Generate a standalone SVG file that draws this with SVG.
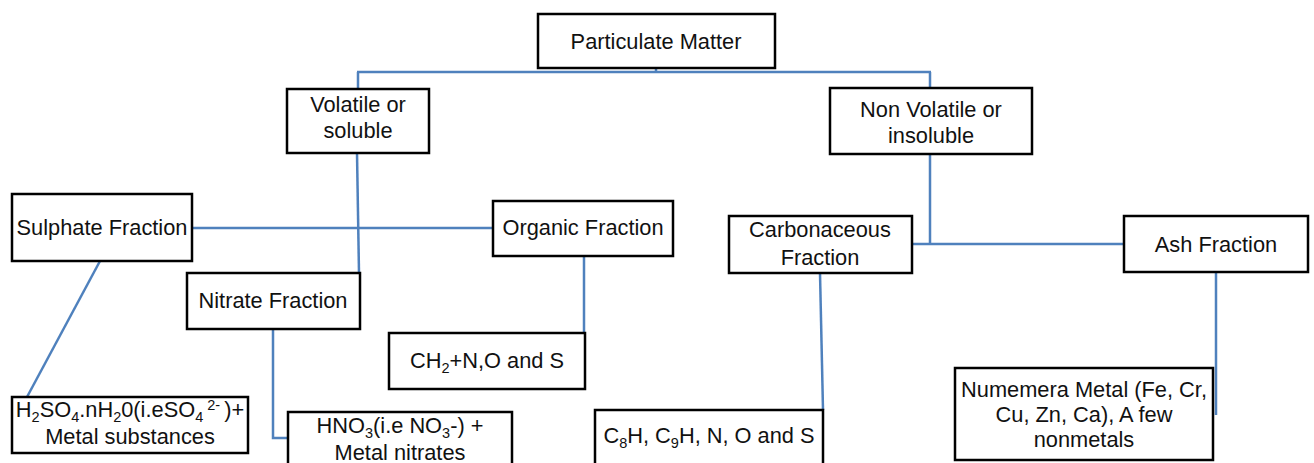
<svg xmlns="http://www.w3.org/2000/svg" width="1314" height="463" viewBox="0 0 1314 463">
<style>
.box{fill:#fff;stroke:#000;stroke-width:2.5}
.c{fill:none;stroke:#4f81bd;stroke-width:2.5}
text{font-family:"Liberation Sans",Arial,sans-serif;font-size:21.8px;fill:#111;text-anchor:middle}
.s{font-size:14.5px}
</style>
<rect width="1314" height="463" fill="#fff"/>
<g id="connectors">
<path class="c" d="M656,68V72M357,72H931M358,72V89M930,72V88"/>
<path class="c" d="M357,153L359,273"/>
<path class="c" d="M192,228H493"/>
<path class="c" d="M100,261L27,397"/>
<path class="c" d="M273,329V438H288"/>
<path class="c" d="M584,256V360"/>
<path class="c" d="M930,154V244M912,244H1124"/>
<path class="c" d="M820,273L823,410"/>
<path class="c" d="M1216,272V415"/>
</g>
<g id="pm"><rect class="box" x="538" y="14" width="237" height="54"/><text x="656" y="49">Particulate Matter</text></g>
<g id="volatile"><rect class="box" x="287" y="89" width="142" height="64"/><text x="358" y="112">Volatile or</text><text x="358" y="138">soluble</text></g>
<g id="nonvolatile"><rect class="box" x="830" y="88" width="202" height="66"/><text x="931" y="117">Non Volatile or</text><text x="931" y="143">insoluble</text></g>
<g id="sulphate"><rect class="box" x="12" y="194" width="180" height="67"/><text x="102" y="235">Sulphate Fraction</text></g>
<g id="organic"><rect class="box" x="493" y="201" width="180" height="55"/><text x="583" y="235">Organic Fraction</text></g>
<g id="nitrate"><rect class="box" x="187" y="273" width="173" height="56"/><text x="273" y="308">Nitrate Fraction</text></g>
<g id="ch2"><rect class="box" x="389" y="333" width="196" height="56"/><text x="487" y="368">CH<tspan class="s" dy="5">2</tspan><tspan dy="-5">+N,O and S</tspan></text></g>
<g id="carbonaceous"><rect class="box" x="729" y="216" width="183" height="57"/><text x="820" y="237">Carbonaceous</text><text x="820" y="265">Fraction</text></g>
<g id="ash"><rect class="box" x="1124" y="216" width="184" height="56"/><text x="1216" y="252">Ash Fraction</text></g>
<g id="h2so4"><rect class="box" x="12" y="397" width="236" height="56"/><text x="130" y="417">H<tspan class="s" dy="5">2</tspan><tspan dy="-5">SO</tspan><tspan class="s" dy="5">4</tspan><tspan dy="-5">.nH</tspan><tspan class="s" dy="5">2</tspan><tspan dy="-5">0(i.eSO</tspan><tspan class="s" dy="5">4</tspan><tspan class="s" dy="-12"> 2- </tspan><tspan dy="7">)+</tspan></text><text x="130" y="444">Metal substances</text></g>
<g id="hno3"><rect class="box" x="288" y="412" width="224" height="60"/><text x="400" y="433">HNO<tspan class="s" dy="5">3</tspan><tspan dy="-5">(i.e NO</tspan><tspan class="s" dy="5">3</tspan><tspan dy="-5">-) +</tspan></text><text x="400" y="460">Metal nitrates</text></g>
<g id="c8h"><rect class="box" x="595" y="410" width="228" height="60"/><text x="709" y="443">C<tspan class="s" dy="5">8</tspan><tspan dy="-5">H, C</tspan><tspan class="s" dy="5">9</tspan><tspan dy="-5">H, N, O and S</tspan></text></g>
<g id="numemera"><rect class="box" x="955" y="368" width="258" height="92"/><text x="1084" y="397">Numemera Metal (Fe, Cr,</text><text x="1084" y="422">Cu, Zn, Ca), A few</text><text x="1084" y="447">nonmetals</text></g>
</svg>
